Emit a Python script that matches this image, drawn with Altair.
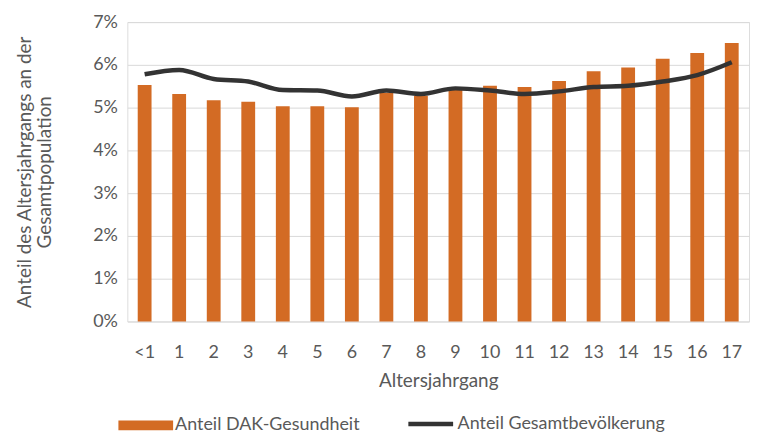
import altair as alt
import pandas as pd

ages = ["<1", "1", "2", "3", "4", "5", "6", "7", "8", "9", "10", "11", "12", "13", "14", "15", "16", "17"]
dak = [5.53, 5.32, 5.17, 5.14, 5.03, 5.03, 5.01, 5.34, 5.28, 5.43, 5.51, 5.48, 5.62, 5.85, 5.94, 6.14, 6.28, 6.51]
gesamt = [5.78, 5.88, 5.67, 5.61, 5.41, 5.40, 5.26, 5.40, 5.32, 5.45, 5.40, 5.32, 5.38, 5.48, 5.51, 5.61, 5.76, 6.06]

s_bar = "Anteil DAK-Gesundheit"
s_line = "Anteil Gesamtbevölkerung"

df = pd.DataFrame({
    "age": ages,
    "dak": [v / 100 for v in dak],
    "gesamt": [v / 100 for v in gesamt],
    "s_bar": s_bar,
    "s_line": s_line,
})

FONT = "Lato"
GRAY = "#595959"

x = alt.X("age:N", sort=ages, title="Altersjahrgang",
          scale=alt.Scale(paddingInner=0.6, paddingOuter=0.3),
          axis=alt.Axis(labelAngle=0, ticks=False, domain=False, labelPadding=22,
                        titlePadding=10, labelFontSize=18, titleFontSize=19,
                        labelColor=GRAY, titleColor=GRAY, titleFontWeight="normal",
                        labelFont=FONT, titleFont=FONT))

yscale = alt.Scale(domain=[0, 0.07])
yaxis = alt.Axis(format=".0%", values=[0, 0.01, 0.02, 0.03, 0.04, 0.05, 0.06, 0.07],
                 title=["Anteil des Altersjahrgangs an der", "Gesamtpopulation"],
                 domain=False, ticks=False, labelPadding=10, titlePadding=38,
                 labelFontSize=18, titleFontSize=19, titleLineHeight=21,
                 labelColor=GRAY, titleColor=GRAY,
                 titleFontWeight="normal", labelFont=FONT, titleFont=FONT,
                 gridColor="#d9d9d9", gridWidth=1)

bars = alt.Chart(df).mark_bar().encode(
    x=x,
    y=alt.Y("dak:Q", scale=yscale, axis=yaxis),
    fill=alt.Fill("s_bar:N", scale=alt.Scale(range=["#d36b24"]),
                  legend=alt.Legend(title=None, orient="none", legendX=-9, legendY=378,
                                    symbolType="M-1,-0.18H1V0.18H-1Z", symbolSize=3025,
                                    symbolStrokeWidth=0, labelFontSize=18, labelColor=GRAY,
                                    labelFont=FONT, labelOffset=2, labelLimit=400)),
)

line = alt.Chart(df).mark_line(strokeWidth=4.5, interpolate="monotone").encode(
    x=alt.X("age:N", sort=ages),
    y=alt.Y("gesamt:Q", scale=yscale),
    stroke=alt.Stroke("s_line:N", scale=alt.Scale(range=["#333333"]),
                      legend=alt.Legend(title=None, orient="none", legendX=280, legendY=379,
                                        symbolType="stroke", symbolSize=2025,
                                        symbolStrokeWidth=4.5, labelFontSize=18, labelColor=GRAY,
                                        labelFont=FONT, labelOffset=2, labelLimit=400)),
)

chart = alt.layer(bars, line).resolve_scale(fill="independent", stroke="independent").properties(
    width=625, height=301, padding={"left": 7, "top": 4, "right": 5, "bottom": 5}
).configure_view(stroke=None).configure(background="white")

chart.save("out.html", embed_options={"renderer": "svg", "actions": False})
